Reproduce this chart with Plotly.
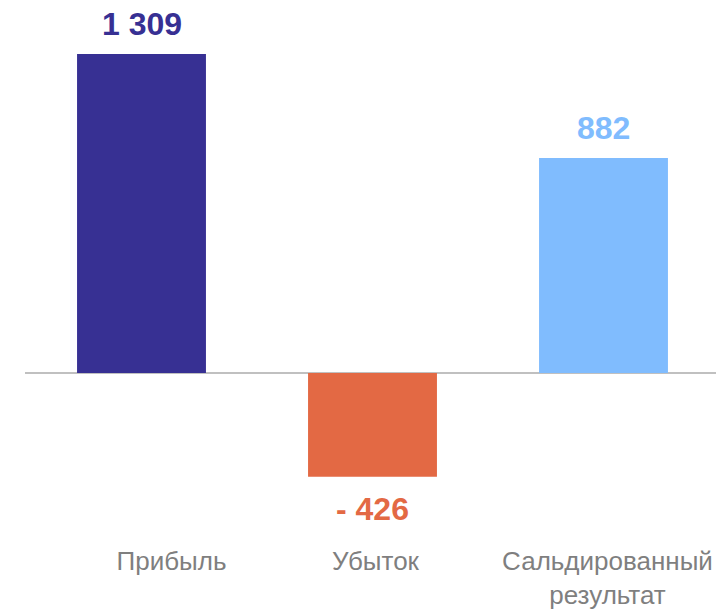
import plotly.graph_objects as go

categories = ["Прибыль", "Убыток", "Сальдированный<br>результат"]
values = [1309, -426, 882]
colors = ["#373093", "#E36944", "#80BCFE"]

def fmt(v):
    s = f"{abs(v):,}".replace(",", " ")
    return ("- " + s) if v < 0 else s

x = list(range(len(categories)))

fig = go.Figure()
fig.add_trace(go.Bar(
    x=x, y=values, marker=dict(color=colors, line=dict(width=0)),
    width=0.558, hoverinfo="skip", showlegend=False,
))

for xi, v, c in zip(x, values, colors):
    fig.add_annotation(
        x=xi, y=v, text=f"<b>{fmt(v)}</b>", showarrow=False,
        yshift=30 if v >= 0 else -32, yanchor="middle", xanchor="center",
        font=dict(family="Liberation Sans, Arial, sans-serif", size=32, color=c),
    )

W, H = 716, 610
plot_bottom = 543
px_per_unit = (373 - 54) / 1309.0
ymax = 373 / px_per_unit
ymin = -(plot_bottom - 373) / px_per_unit
cat_px = 231.0
# category labels in the original sit slightly right of the bar centres
label_nudge_px = [30, 3, 4]
tick_positions = [xi + n / cat_px for xi, n in zip(x, label_nudge_px)]

fig.update_layout(
    width=W, height=H,
    margin=dict(l=25, r=0, t=0, b=H - plot_bottom, autoexpand=False),
    plot_bgcolor="white", paper_bgcolor="white",
    font=dict(family="Liberation Sans, Arial, sans-serif"),
    xaxis=dict(
        range=[-(141.5 - 25) / cat_px, (716 - 141.5) / cat_px],
        tickvals=tick_positions, ticktext=categories,
        tickfont=dict(size=26, color="#7F7F7F"),
        showgrid=False, zeroline=False, showline=False, ticks="",
        automargin=False, fixedrange=True,
    ),
    yaxis=dict(
        range=[ymin, ymax], showgrid=False, showticklabels=False,
        zeroline=True, zerolinecolor="#C0C0C0", zerolinewidth=2,
        automargin=False, fixedrange=True,
    ),
)

fig.write_html(
    "out.html",
    config={"displayModeBar": False},
    post_script="document.body.style.margin='0';document.body.style.overflow='hidden';",
)
